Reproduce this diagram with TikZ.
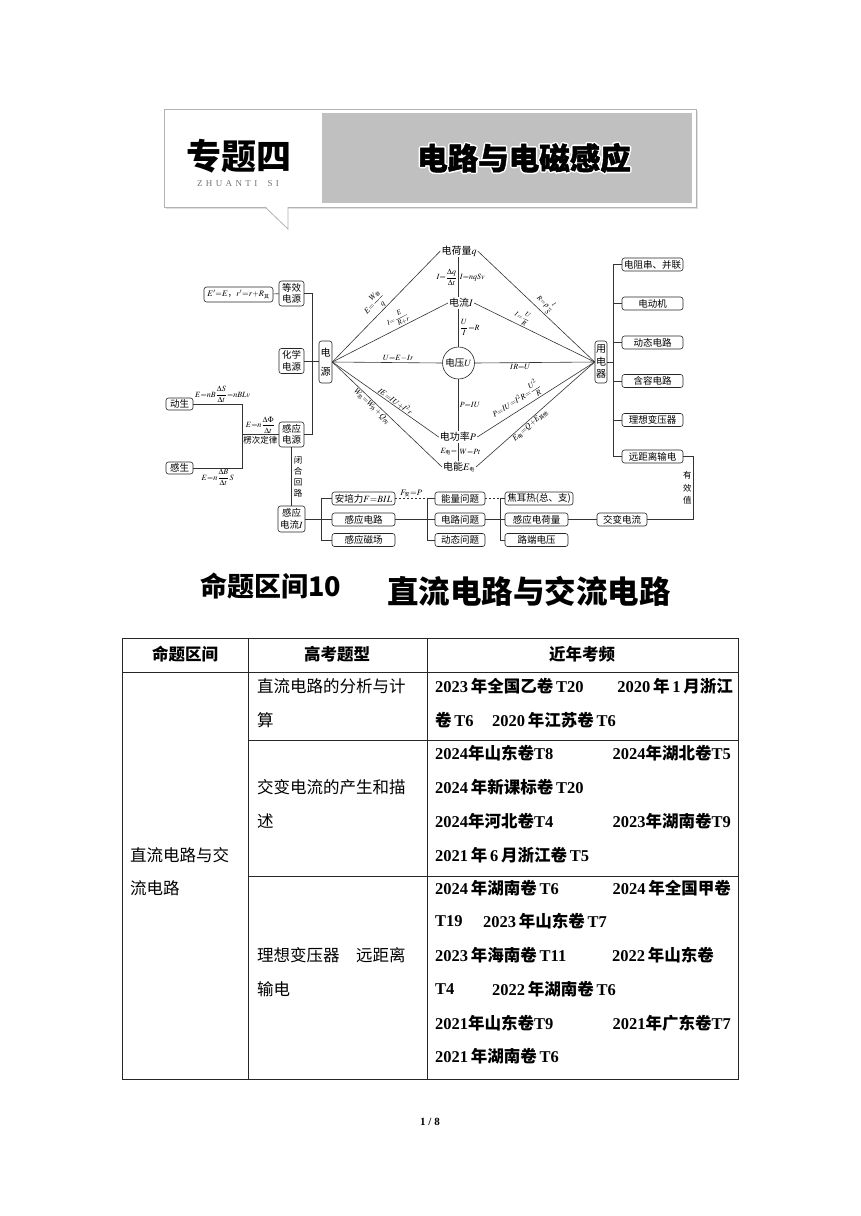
\documentclass[tikz,border=0pt]{standalone}
\usepackage{amsmath}
\usepackage{mathptmx}
\usepackage{fontspec}
\setmainfont{Liberation Serif}
\newfontfamily\cjk{Noto Sans CJK SC}
\newcommand\cs[1]{\hbox{\cjk\fontsize{5}{5}\selectfont #1}}
\newcommand\z[1]{{\cjk #1}}
\newcommand\lsp{\hspace{3.4pt}}
\newcommand\halotext[1]{\leavevmode\rlap{\special{pdf:literal direct 1 Tr 3.6 w 1 j 1 1 1 RG}#1\special{pdf:literal direct 0 Tr 0 G}}\special{pdf:literal direct 2 Tr 0.5 w 0 0 0 RG}#1\special{pdf:literal direct 0 Tr 0 G}}
\definecolor{bannergray}{RGB}{192,192,192}
\tikzset{
  bx/.style={draw=black!85, line width=0.6pt, rounded corners=2.5pt, inner sep=1.2pt,
     font=\cjk\fontsize{9.5}{11.5}\selectfont, minimum height=13pt, align=center},
  ln/.style={draw=black!80, line width=0.6pt},
  dsh/.style={draw=black!80, line width=0.6pt, dash pattern=on 2pt off 2pt},
  lbl/.style={font=\fontsize{8}{9}\selectfont, inner sep=1pt},
  tx/.style={font=\cjk\fontsize{10}{12}\selectfont, inner sep=1pt},
  tl/.style={draw=black!85, line width=0.8pt},
  th/.style={font=\cjk\bfseries\fontsize{16.5}{18}\selectfont, inner sep=0pt},
  td/.style={font=\cjk\fontsize{16.5}{18}\selectfont, anchor=west, inner sep=0pt},
  tb/.style={font=\bfseries\fontsize{16.5}{18}\selectfont, anchor=west, inner sep=0pt},
  tbr/.style={font=\bfseries\fontsize{16.5}{18}\selectfont, anchor=east, inner sep=0pt},
}
\begin{document}
\begin{tikzpicture}[x=1pt,y=-1pt]
\useasboundingbox (0,0) rectangle (860,1216);
\fill[white] (0,0) rectangle (860,1216);

% ---------- banner ----------
\fill[black!12] (166,111) rectangle (698,209);
\draw[black!30, fill=white, line width=0.8pt] (164,109) rectangle (696,207);
\fill[bannergray] (322,113) rectangle (692,203);
\fill[white] (265,206.2) -- (288,206.2) -- (288,229) -- cycle;
\draw[black!30, line width=0.8pt] (265,207) -- (288,229) -- (288,207);
\node[font=\cjk\bfseries\fontsize{35}{38}\selectfont, inner sep=0] (zt) at (238.5,156) {专题四};
\node[font=\fontsize{9}{10}\selectfont, text=black!55, inner sep=0] (zs) at (238,184)
  {Z\lsp H\lsp U\lsp A\lsp N\lsp T\lsp I\lsp\lsp\lsp S\lsp I};
\node[font=\cjk\bfseries\fontsize{30.5}{32}\selectfont, inner sep=0] (bt) at (524,158) {\halotext{电路与电磁感应}};

% ---------- mind map: nodes ----------
\node[bx, minimum width=69pt, minimum height=15pt, font=\cjk\fontsize{8.5}{10}\selectfont] (eq) at (238.5,294.5)
  {$E'{=}E$，$r'{=}r{+}R_{\cs{其}}$};
\node[bx, minimum width=25pt, minimum height=25pt] (dx) at (291.5,293.5) {等效\\电源};
\node[bx, minimum width=25pt, minimum height=25pt] (hx) at (291.5,361) {化学\\电源};
\node[bx, minimum width=25pt, minimum height=25pt] (gy) at (291.5,434.5) {感应\\电源};
\node[bx, minimum width=13pt, minimum height=42pt, inner sep=0.5pt, font=\cjk\fontsize{10}{19}\selectfont] (dy) at (325.5,362) {电\\源};
\node[bx, minimum width=12pt, minimum height=42pt, inner sep=0.5pt, font=\cjk\fontsize{10}{12.5}\selectfont] (yd) at (601,362) {用\\电\\器};
\node[bx, minimum width=27pt, minimum height=12pt] (ds) at (179.5,404) {动生};
\node[bx, minimum width=27pt, minimum height=12pt] (gs) at (179.5,468) {感生};
\node[bx, minimum width=27pt, minimum height=26pt] (gl) at (291.5,519) {感应\\电流$I$};

\node[bx, minimum width=63pt] (af) at (363.5,498.5) {安培力$F{=}BIL$};
\node[bx, minimum width=63pt] (gd) at (363.5,519.5) {感应电路};
\node[bx, minimum width=63pt] (gc) at (363.5,540) {感应磁场};
\node[bx, minimum width=50pt] (nl) at (460,498.5) {能量问题};
\node[bx, minimum width=50pt] (dl) at (460,519.5) {电路问题};
\node[bx, minimum width=50pt] (dt) at (460,540) {动态问题};
\node[bx, minimum width=68pt] (jr) at (539,498.5) {焦耳热(总、支)};
\node[bx, minimum width=63pt] (gh) at (536.5,519.5) {感应电荷量};
\node[bx, minimum width=63pt] (ld) at (536.5,540) {路端电压};
\node[bx, minimum width=50pt] (jb) at (622,519.5) {交变电流};

\node[bx, minimum width=61pt] (dz) at (652.5,264.5) {电阻串、并联};
\node[bx, minimum width=61pt] (dd) at (652.5,303.5) {电动机};
\node[bx, minimum width=61pt] (dt2) at (652.5,342.5) {动态电路};
\node[bx, minimum width=61pt] (hr) at (652.5,381) {含容电路};
\node[bx, minimum width=61pt] (lx) at (652.5,420) {理想变压器};
\node[bx, minimum width=61pt] (yj) at (652.5,456.5) {远距离输电};

\node[tx] (q) at (459,251) {电荷量$q$};
\node[tx] (I) at (461,303) {电流$I$};
\node[draw=black!85, line width=0.6pt, circle, minimum size=32pt, inner sep=0pt, font=\cjk\fontsize{9.5}{11}\selectfont] (U) at (458.5,363) {电压$U$};
\node[tx] (P) at (458,437) {电功率$P$};
\node[tx] (E) at (459,467) {电能$E_{\cs{电}}$};

% ---------- mind map: connectors ----------
\draw[ln] (dy.east) -- (q.west) node[lbl, pos=0.46, sloped, above] {$E{=}\dfrac{W_{\cs{非}}}{q}$};
\draw[ln] (dy.east) -- (I.west) node[lbl, pos=0.6, sloped, above, font=\fontsize{7}{8}\selectfont] {$I{=}\dfrac{E}{R{+}r}$};
\draw[ln] (dy.east) -- (U.west) node[lbl, pos=0.6, above] {$U{=}E{-}Ir$};
\draw[ln] (dy.east) -- (P.west) node[lbl, pos=0.57, sloped, above, inner sep=0.3pt] {$IE{=}IU{+}I^2r$};
\draw[ln] (dy.east) -- (E.west) node[lbl, pos=0.39, sloped, below] {$W_{\cs{总}}{=}W_{\cs{外}}{+}Q_{\cs{内}}$};

\draw[ln] (q.east) -- (yd.west) node[lbl, pos=0.53, sloped, above, font=\fontsize{7}{8}\selectfont] {$R{=}\rho\dfrac{l}{S}$};
\draw[ln] (I.east) -- (yd.west) node[lbl, pos=0.37, sloped, above, font=\fontsize{7}{8}\selectfont] {$I{=}\dfrac{U}{R}$};
\draw[ln] (U.east) -- (yd.west) node[lbl, pos=0.38, below] {$IR{=}U$};
\draw[ln] (P.east) -- (yd.west) node[lbl, pos=0.38, sloped, above] {$P{=}IU{=}I^2R{=}\dfrac{U^2}{R}$};
\draw[ln] (E.east) -- (yd.west) node[lbl, pos=0.43, sloped, below] {$E_{\cs{电}}{=}Q{+}E_{\cs{其他}}$};

\draw[ln] (q.south -| U) -- (I.north -| U)
  node[lbl, midway, left] {$I{=}\dfrac{\Delta q}{\Delta t}$}
  node[lbl, midway, right] {$I{=}nqSv$};
\draw[ln] (I.south -| U) -- (U.north) node[lbl, midway, right] {$\dfrac{U}{I}{=}R$};
\draw[ln] (U.south) -- (P.north -| U) node[lbl, midway, right] {$P{=}IU$};
\draw[ln] (P.south -| U) -- (E.north -| U)
  node[lbl, midway, left] {$E_{\cs{电}}{=}$}
  node[lbl, midway, right] {$W{=}Pt$};

% left side
\draw[ln] (eq) -- (dx);
\coordinate (t1) at (312,293.5);
\draw[ln] (dx.east) -- (t1) -- (t1 |- gy.east) -- (gy.east);
\draw[ln] (hx.east) -- (hx.east -| dy.west);
\coordinate (j1) at (242,434.5);
\draw[ln] (ds.east) -- node[lbl, above, xshift=5pt] {$E{=}nB\dfrac{\Delta S}{\Delta t}{=}nBLv$} (ds.east -| j1)
  -- (gs.east -| j1) -- node[lbl, below] {$E{=}n\dfrac{\Delta B}{\Delta t}S$} (gs.east);
\draw[ln] (j1) -- (gy.west)
  node[lbl, midway, above] {$E{=}n\dfrac{\Delta\Phi}{\Delta t}$}
  node[midway, below, inner sep=1.5pt, font=\cjk\fontsize{8.5}{9}\selectfont] {楞次定律};
\draw[ln] (gy) -- (gl) node[midway, right, xshift=1pt, inner sep=1pt, align=center, font=\cjk\fontsize{8.5}{11}\selectfont] {闭\\合\\回\\路};

% bottom brackets
\coordinate (b1) at (321,519);
\draw[ln] (gl.east) -- (gl.east -| b1);
\draw[ln] (af.west) -- (af.west -| b1) -- (gc.west -| b1) -- (gc.west);
\draw[ln] (gd.west) -- (gd.west -| b1);
\coordinate (b2) at (427,519);
\draw[dsh] (af.east) -- (af.east -| b2) node[lbl, midway, above, font=\fontsize{8.5}{9}\selectfont] {$F_{\cs{安}}{=}P$};
\draw[ln] (nl.west) -- (nl.west -| b2) -- (dt.west -| b2) -- (dt.west);
\draw[ln] (gd.east) -- (dl.west);
\coordinate (b3) at (500,519);
\draw[dsh] (nl.east) -- (nl.east -| b3);
\draw[ln] (jr.west) -- (jr.west -| b3) -- (ld.west -| b3) -- (ld.west);
\draw[ln] (dl.east) -- (gh.west);
\draw[ln] (gh.east) -- (jb.west);
\coordinate (c5) at (693,519.5);
\draw[ln] (jb.east) -- (c5) -- (c5 |- yj.east)
  node[midway, left, inner sep=1pt, align=center, font=\cjk\fontsize{8.5}{12.5}\selectfont] {有\\效\\值}
  -- (yj.east);

% right trunk
\coordinate (b4) at (613,362);
\draw[ln] (yd.east) -- (b4);
\draw[ln] (dz.west) -- (dz.west -| b4) -- (yj.west -| b4) -- (yj.west);
\foreach \n in {dd,dt2,hr,lx} \draw[ln] (\n.west) -- (\n.west -| b4);

% ---------- section title ----------
\node[font=\cjk\bfseries\fontsize{27}{30}\selectfont, anchor=west, inner sep=0] (st1) at (200,586) {命题区间10};
\node[font=\cjk\bfseries\fontsize{31.5}{34}\selectfont, inner sep=0] (st2) at (529,591) {直流电路与交流电路};

% ---------- table ----------
\draw[tl] (122,638) rectangle (738,1079);
\draw[tl] (122,672) -- (738,672);
\draw[tl] (248,638) -- (248,1079);
\draw[tl] (427,638) -- (427,1079);
\draw[tl] (248,740) -- (738,740);
\draw[tl] (248,876) -- (738,876);

\node[th] (h1) at (185,654) {命题区间};
\node[th] (h2) at (337,654) {高考题型};
\node[th] (h3) at (582,654) {近年考频};

\node[td] (c1a) at (130,855) {直流电路与交};
\node[td] (c1b) at (130,888) {流电路};
\node[td] (c2a) at (257,686) {直流电路的分析与计};
\node[td] (c2b) at (257,720) {算};
\node[td] (c2c) at (257,787) {交变电流的产生和描};
\node[td] (c2d) at (257,821) {述};
\node[td] (c2e) at (257,955) {理想变压器\hspace{1em}远距离};
\node[td] (c2f) at (257,989) {输电};

\node[tb] (r1) at (435,686) {2023\,\z{年全国乙卷}\,T20};
\node[tbr] (r2) at (733,686) {2020\,\z{年}\,1\,\z{月浙江}};
\node[tb] (r3) at (435,720) {\z{卷}\,T6};
\node[tb] (r4) at (492,720) {2020\,\z{年江苏卷}\,T6};
\node[tb] (r5) at (435,753) {2024\z{年山东卷}T8};
\node[tbr] (r6) at (731,753) {2024\z{年湖北卷}T5};
\node[tb] (r7) at (435,787) {2024\,\z{年新课标卷}\,T20};
\node[tb] (r8) at (435,821) {2024\z{年河北卷}T4};
\node[tbr] (r9) at (731,821) {2023\z{年湖南卷}T9};
\node[tb] (r10) at (435,855) {2021\,\z{年}\,6\,\z{月浙江卷}\,T5};
\node[tb] (r11) at (435,888) {2024\,\z{年湖南卷}\,T6};
\node[tbr] (r12) at (731,888) {2024\,\z{年全国甲卷}};
\node[tb] (r13) at (435,921) {T19};
\node[tb] (r14) at (483,921) {2023\,\z{年山东卷}\,T7};
\node[tb] (r15) at (435,955) {2023\,\z{年海南卷}\,T11};
\node[tb] (r16) at (612,955) {2022\,\z{年山东卷}};
\node[tb] (r17) at (435,989) {T4};
\node[tb] (r18) at (492,989) {2022\,\z{年湖南卷}\,T6};
\node[tb] (r19) at (435,1023) {2021\z{年山东卷}T9};
\node[tbr] (r20) at (731,1023) {2021\z{年广东卷}T7};
\node[tb] (r21) at (435,1056) {2021\,\z{年湖南卷}\,T6};

\node[font=\bfseries\fontsize{11}{12}\selectfont, inner sep=0] (pg) at (430,1122) {1 / 8};
\end{tikzpicture}
\end{document}
